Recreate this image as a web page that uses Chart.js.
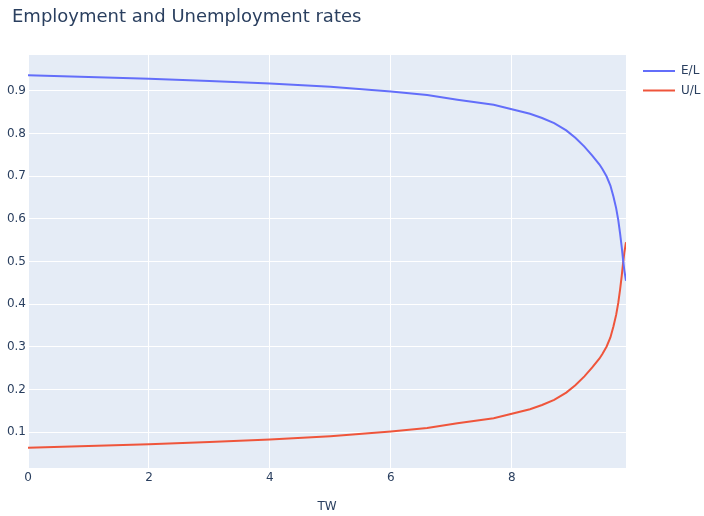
<!DOCTYPE html>
<html>
<head>
<meta charset="utf-8">
<script src="https://cdn.jsdelivr.net/npm/chart.js@4/dist/chart.umd.min.js"></script>
<style>
  html, body { margin: 0; padding: 0; background: #fff; }
  #wrap { width: 704px; height: 516px; }
</style>
</head>
<body>
<div id="wrap"><canvas id="rates" width="704" height="516"></canvas></div>
<script>
// Data
const tw = [0, 1, 2, 3, 4, 5, 6, 6.6, 7.1, 7.7, 8.1, 8.3, 8.5, 8.7, 8.9, 9.05, 9.2, 9.33, 9.45, 9.5, 9.568, 9.63, 9.68, 9.725, 9.76, 9.79, 9.817, 9.84, 9.86, 9.876, 9.888];
const employment = [0.936, 0.932, 0.928, 0.923, 0.917, 0.909, 0.898, 0.890, 0.879, 0.867, 0.853, 0.846, 0.836, 0.824, 0.807, 0.790, 0.769, 0.748, 0.727, 0.716, 0.699, 0.678, 0.652, 0.625, 0.597, 0.566, 0.534, 0.503, 0.480, 0.465, 0.455];
const unemployment = [0.064, 0.068, 0.072, 0.077, 0.083, 0.091, 0.102, 0.110, 0.121, 0.133, 0.147, 0.154, 0.164, 0.176, 0.193, 0.210, 0.231, 0.252, 0.273, 0.284, 0.301, 0.322, 0.348, 0.375, 0.403, 0.434, 0.466, 0.497, 0.520, 0.535, 0.545];
const xTicks = [0, 2, 4, 6, 8];
const yTicks = [0.1, 0.2, 0.3, 0.4, 0.5, 0.6, 0.7, 0.8, 0.9];
const seriesNames = ["E/L", "U/L"];
const seriesColors = ["#636efa", "#EF553B"];

const fontFamily = '"DejaVu Sans", Verdana, sans-serif';
const textColor = "#2a3f5f";

const toPoints = (xs, ys) => xs.map((x, i) => ({ x: x, y: ys[i] }));

// Plot background, title, axis title and legend drawn like plotly
const plotlyDecor = {
  id: "plotlyDecor",
  beforeDraw(chart) {
    const { ctx, chartArea } = chart;
    ctx.save();
    ctx.fillStyle = "#E5ECF6";
    ctx.fillRect(chartArea.left, chartArea.top, chartArea.right - chartArea.left, chartArea.bottom - chartArea.top);
    ctx.restore();
  },
  afterDraw(chart) {
    const { ctx, chartArea } = chart;
    ctx.save();
    ctx.fillStyle = textColor;
    ctx.textBaseline = "middle";
    ctx.font = "18px " + fontFamily;
    ctx.fillText("Employment and Unemployment rates", 12, 17);

    ctx.font = "12px " + fontFamily;
    ctx.textAlign = "center";
    ctx.fillText("TW", (chartArea.left + chartArea.right) / 2, 507);

    // legend
    ctx.textAlign = "left";
    seriesNames.forEach((name, i) => {
      const y = 71 + i * 19.5;
      ctx.strokeStyle = seriesColors[i];
      ctx.lineWidth = 2;
      ctx.beginPath();
      ctx.moveTo(643, y);
      ctx.lineTo(675, y);
      ctx.stroke();
      ctx.fillText(name, 681, y);
    });
    ctx.restore();
  },
};

new Chart(document.getElementById("rates").getContext("2d"), {
  type: "scatter",
  data: {
    datasets: [
      {
        label: seriesNames[0],
        data: toPoints(tw, employment),
        showLine: true,
        borderColor: seriesColors[0],
        borderWidth: 2,
        pointRadius: 0,
        tension: 0,
      },
      {
        label: seriesNames[1],
        data: toPoints(tw, unemployment),
        showLine: true,
        borderColor: seriesColors[1],
        borderWidth: 2,
        pointRadius: 0,
        tension: 0,
      },
    ],
  },
  options: {
    responsive: false,
    animation: false,
    layout: { padding: { left: 0, top: 55, right: 78, bottom: 0 } },
    plugins: {
      legend: { display: false },
      title: { display: false },
      tooltip: { enabled: false },
    },
    scales: {
      x: {
        type: "linear",
        min: 0,
        max: 9.888,
        afterBuildTicks: (scale) => {
          scale.ticks = xTicks.map((v) => ({ value: v }));
        },
        afterFit: (scale) => {
          scale.height = 48;
        },
        grid: { color: "#ffffff", lineWidth: 1, drawTicks: false },
        border: { display: false },
        ticks: {
          color: textColor,
          font: { family: fontFamily, size: 12 },
          padding: 3,
          maxRotation: 0,
        },
      },
      y: {
        type: "linear",
        min: 0.0164,
        max: 0.9836,
        afterBuildTicks: (scale) => {
          scale.ticks = yTicks.map((v) => ({ value: v }));
        },
        afterFit: (scale) => {
          scale.width = 28;
        },
        grid: { color: "#ffffff", lineWidth: 1, drawTicks: false },
        border: { display: false },
        ticks: {
          color: textColor,
          font: { family: fontFamily, size: 12 },
          padding: 2,
          callback: (v) => Number(v).toFixed(1),
        },
      },
    },
  },
  plugins: [plotlyDecor],
});
</script>
</body>
</html>
